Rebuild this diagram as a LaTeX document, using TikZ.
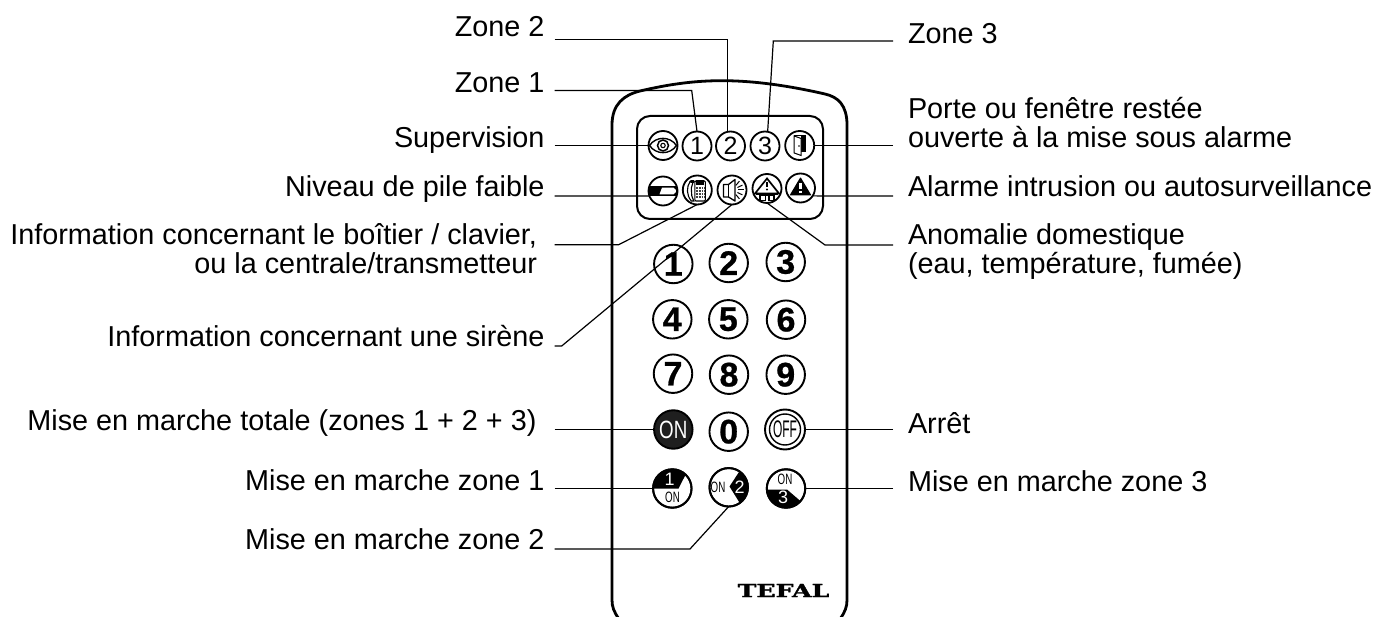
\documentclass[tikz,border=0pt]{standalone}
\usepackage{fontspec}
\setmainfont{Liberation Sans}
\newfontfamily\logofont[BoldFeatures={FakeBold=1.5}]{DejaVu Serif}
\newfontfamily\keyfont[BoldFeatures={FakeBold=0.8}]{Liberation Sans}
\newcommand\sz[1]{\fontsize{#1}{29}\selectfont}
\tikzset{
  lbl/.style={anchor=base east,font=\sz{28.8},inner xsep=8.5pt,inner ysep=0pt,outer sep=0pt,align=right},
  rbl/.style={anchor=base west,font=\sz{28.8},inner xsep=15pt,inner ysep=0pt,outer sep=0pt,align=left},
  conn/.style={draw=black,line width=1.2pt},
  body/.style={draw=black,line width=2.8pt},
  led/.style={circle,draw=black,line width=1.8pt,minimum size=29pt,inner sep=0pt,outer sep=0pt,font=\sz{25}},
  key/.style={circle,draw=black,line width=1.9pt,minimum size=38.5pt,inner sep=0pt,outer sep=0pt,font=\keyfont\sz{34}\bfseries},
  small/.style={inner sep=0pt,outer sep=0pt,text=white},
}
\begin{document}
\begin{tikzpicture}[x=1pt,y=-1pt]
\useasboundingbox (0,0) rectangle (1376,617);
\fill[white] (0,0) rectangle (1376,617);
% remote body
\begin{scope}
\clip (0,0) rectangle (1376,617);
\draw[body] (619,619) .. controls (614,612) and (612,607) .. (612,600) -- (612,125)
  .. controls (612,104) and (624,95) .. (640,91)
  .. controls (670,84) and (695,80.7) .. (722,80.7)
  .. controls (755,80.7) and (790,86) .. (825,94)
  .. controls (838,97) and (847,105) .. (847,125)
  -- (847,600) .. controls (847,607) and (845,612) .. (840,619);
\end{scope}
\draw[black,line width=2pt,rounded corners=13pt] (637,116) rectangle (823,219);
% LEDs
\node[led] (eye) at (663,145.5) {};
\node[led] (n1) at (697,146) {1};
\node[led] (n2) at (730.5,146) {2};
\node[led] (n3) at (765,146) {3};
\node[led] (door) at (799.7,145.5) {};
\node[led] (bat) at (663,191) {};
\node[led] (tel) at (697.3,190) {};
\node[led] (sir) at (732,190) {};
\node[led] (hou) at (767,188.5) {};
\node[led] (war) at (800.5,188) {};
% eye
\begin{scope}[shift={(eye.center)}]
\draw[black,line width=1.4pt] (-13.5,0) .. controls (-7,-9.5) and (7,-9.5) .. (13.5,0) .. controls (7,9.5) and (-7,9.5) .. (-13.5,0) -- cycle;
\draw[black,line width=1.5pt] (0,0) circle (5.5);
\draw[black,line width=1.1pt] (0,0) circle (2.2);
\end{scope}
% door
\begin{scope}[shift={(door.center)}]
\fill[black] (1.5,-9.5) rectangle (5.8,6.5);
\draw[black,line width=1pt] (-5.5,-9.5) -- (5.8,-9.5);
\draw[black,fill=white,line width=1pt] (-5.5,-9.5) -- (1.5,-7) -- (1.5,10) -- (-5.5,7.5) -- cycle;
\fill[black] (-0.8,0.5) circle (0.9);
\end{scope}
% battery
\begin{scope}[shift={(bat.center)}]
\fill[black] (-14.3,-4.7) rectangle (14.3,4.7);
\fill[white] (-1,-3.3) -- (10.5,-3.3) -- (12.8,-1.2) -- (12.8,1.2) -- (10.5,3.3) -- (-3.5,3.3) -- cycle;
\end{scope}
% telephone
\begin{scope}[shift={(tel.center)}]
\draw[black,line width=1.1pt,rounded corners=1pt] (-2.5,-9) rectangle (8,11);
\fill[black] (-1,-9.5) rectangle (7,-4.5);
\draw[black,line width=2.2pt,line cap=round] (-6.5,-8.5) -- (-3.5,-8.5);
\draw[black,line width=1.1pt] (-7,-9) .. controls (-11,-3) and (-11,5) .. (-6,11) -- (-3.5,11) -- (-5.5,6) -- (-6,-2) -- (-4.5,-7);
\foreach \yy in {-2,1,4,7}{
  \draw[black!75,line width=1.3pt,dash pattern=on 1.6pt off 1pt] (-1,\yy) -- (7,\yy);
}
\end{scope}
% siren
\begin{scope}[shift={(sir.center)}]
\draw[black,line width=1.3pt,line join=round] (-8.5,-5.5) -- (-3.5,-5.5) -- (3,-10.5) -- (3,11) -- (-3.5,7) -- (-8.5,7) -- cycle;
\draw[black,line width=1pt] (-3.5,-5.5) -- (-3.5,7);
\foreach \aa in {-50,-25,0,25,50}{
  \draw[black,line width=1pt] (\aa:6) -- (\aa:11.5);
}
\end{scope}
% house
\begin{scope}[shift={(hou.center)}]
\draw[black,line width=1.7pt,line join=miter] (-12,5) -- (0,-10) -- (12,5) -- cycle;
\fill[black] (-0.9,-6) rectangle (0.9,-1);
\fill[black] (0,1) circle (1.1);
\fill[black] (-11,5) rectangle (11,7);
\fill[black] (-8,5) rectangle (8,13);
\fill[white] (-6,7.8) rectangle (-2.5,11.2);
\fill[white] (2.5,7.8) rectangle (6,11.2);
\fill[white] (-1,7.8) rectangle (1,13);
\end{scope}
% warning
\begin{scope}[shift={(war.center)}]
\fill[black,rounded corners=0.8pt] (0,-11) -- (11,7.5) -- (-11,7.5) -- cycle;
\fill[white] (-1.3,-4.5) rectangle (1.3,1.5);
\fill[white] (-1.3,3) rectangle (1.3,5.5);
\end{scope}
% keypad
\node[key] (k1) at (673.3,264) {1};
\node[key] (k2) at (728.7,263) {2};
\node[key] (k3) at (785.7,262) {3};
\node[key] (k4) at (672.3,319.3) {4};
\node[key] (k5) at (728.3,319.3) {5};
\node[key] (k6) at (786,319.7) {6};
\node[key] (k7) at (673,373.7) {7};
\node[key] (k8) at (729,374.7) {8};
\node[key] (k9) at (785.7,374.7) {9};
\node[key] (k0) at (728.7,431.7) {0};
\node[key,fill=black!88,text=white,font=\sz{25}] (kon) at (673.3,429.5) {\scalebox{0.75}[1]{ON}};
\node[key,font=\sz{24},minimum size=40pt] (koff) at (785,429.5) {\scalebox{0.5}[1]{OFF}};
\draw[black,line width=1.4pt] (koff.center) circle (15.5);
% split keys
\node[key] (z1) at (672.3,488.5) {};
\node[key] (z2) at (728.7,487.3) {};
\node[key] (z3) at (786,488.5) {};
\begin{scope}
\clip (z1.center) circle (19);
\fill[black] (652,488.5) -- (678.5,488.5) -- (689,468) -- (652,465) -- cycle;
\end{scope}
\begin{scope}
\clip (z2.center) circle (19);
\fill[black] (729.5,486.5) -- (739,472) -- (752,465) -- (752,510) -- (741,505) -- cycle;
\end{scope}
\begin{scope}
\clip (z3.center) circle (19);
\fill[black] (765,489.5) -- (787,489.5) -- (805,505) -- (805,510) -- (765,510) -- cycle;
\end{scope}
\node[small,font=\sz{18}] (z1a) at (669.5,479) {1};
\node[small,text=black,font=\sz{15}] (z1b) at (672.5,497.5) {\scalebox{0.65}[1]{ON}};
\node[small,text=black,font=\sz{15}] (z2a) at (718,487.5) {\scalebox{0.65}[1]{ON}};
\node[small,font=\sz{18}] (z2b) at (739.5,487.5) {2};
\node[small,text=black,font=\sz{15}] (z3a) at (785,479) {\scalebox{0.65}[1]{ON}};
\node[small,font=\sz{18}] (z3b) at (783,497.5) {3};
\draw[black,line width=1.9pt] (z1.center) circle (19.2) (z2.center) circle (19.2) (z3.center) circle (19.2);
% logo
\node[inner sep=0pt,outer sep=0pt,font=\logofont\bfseries\sz{18}] (logo) at (783.5,590.5) {\scalebox{1.4}[1]{TEFAL}};
% labels
\node[lbl] (lz2) at (553,36.7) {Zone 2};
\node[lbl] (lz1) at (553,92.7) {Zone 1};
\node[lbl] (lsu) at (553,147.7) {Supervision};
\node[lbl] (lni) at (553,196.7) {Niveau de pile faible};
\node[lbl] (lin) at (545.5,274) {Information concernant le boîtier / clavier,\\ou la centrale/transmetteur};
\node[lbl] (lsi) at (553,346.7) {Information concernant une sirène};
\node[lbl] (lto) at (553,430.7) {Mise en marche totale (zones 1 + 2 + 3)\ };
\node[lbl] (lm1) at (553,490) {Mise en marche zone 1};
\node[lbl] (lm2) at (553,549.3) {Mise en marche zone 2};
\node[rbl] (rz3) at (893,43.3) {Zone 3};
\node[rbl] (rpo) at (893,147.7) {Porte ou fenêtre restée\\ouverte à la mise sous alarme};
\node[rbl] (ral) at (893,196.7) {Alarme intrusion ou autosurveillance};
\node[rbl] (ran) at (893,274) {Anomalie domestique\\(eau, température, fumée)};
\node[rbl] (rar) at (893,433.3) {Arrêt};
\node[rbl] (rm3) at (893,491.7) {Mise en marche zone 3};
% bends
\coordinate (b2) at (727.3,39.5);
\coordinate (b3) at (773.3,41);
\coordinate (b1) at (691.7,90.5);
\coordinate (btel) at (618.7,244.7);
\coordinate (bsir) at (561.7,346);
\coordinate (bhou) at (825,245);
\coordinate (bm2) at (690,549);
\coordinate (e3) at (767.7,131);
\coordinate (ybat) at (600,196);
\coordinate (lx) at (554.5,0);
\coordinate (rx) at (893,0);
% connectors
\draw[conn] (lx |- b2) -- (b2) -- (n2.north -| b2);
\draw[conn] (rx |- b3) -- (b3) -- (e3);
\draw[conn] (lx |- b1) -- (b1) -- (n1.north);
\draw[conn] (lx |- eye) -- (eye.west);
\draw[conn] (rx |- door) -- (door.east);
\draw[conn] (lx |- ybat) -- (bat.200);
\draw[conn] (rx |- ybat) -- (war.-33.5);
\draw[conn] (lx |- btel) -- (btel) -- (tel.south);
\draw[conn] (lx |- bsir) -- (bsir) -- (sir.south);
\draw[conn] (rx |- bhou) -- (bhou) -- (hou.south);
\draw[conn] (lx |- kon) -- (kon.west);
\draw[conn] (rx |- koff) -- (koff.east);
\draw[conn] (lx |- z1) -- (z1.west);
\draw[conn] (rx |- z3) -- (z3.east);
\draw[conn] (lx |- bm2) -- (bm2) -- (z2.south);
\end{tikzpicture}
\end{document}
